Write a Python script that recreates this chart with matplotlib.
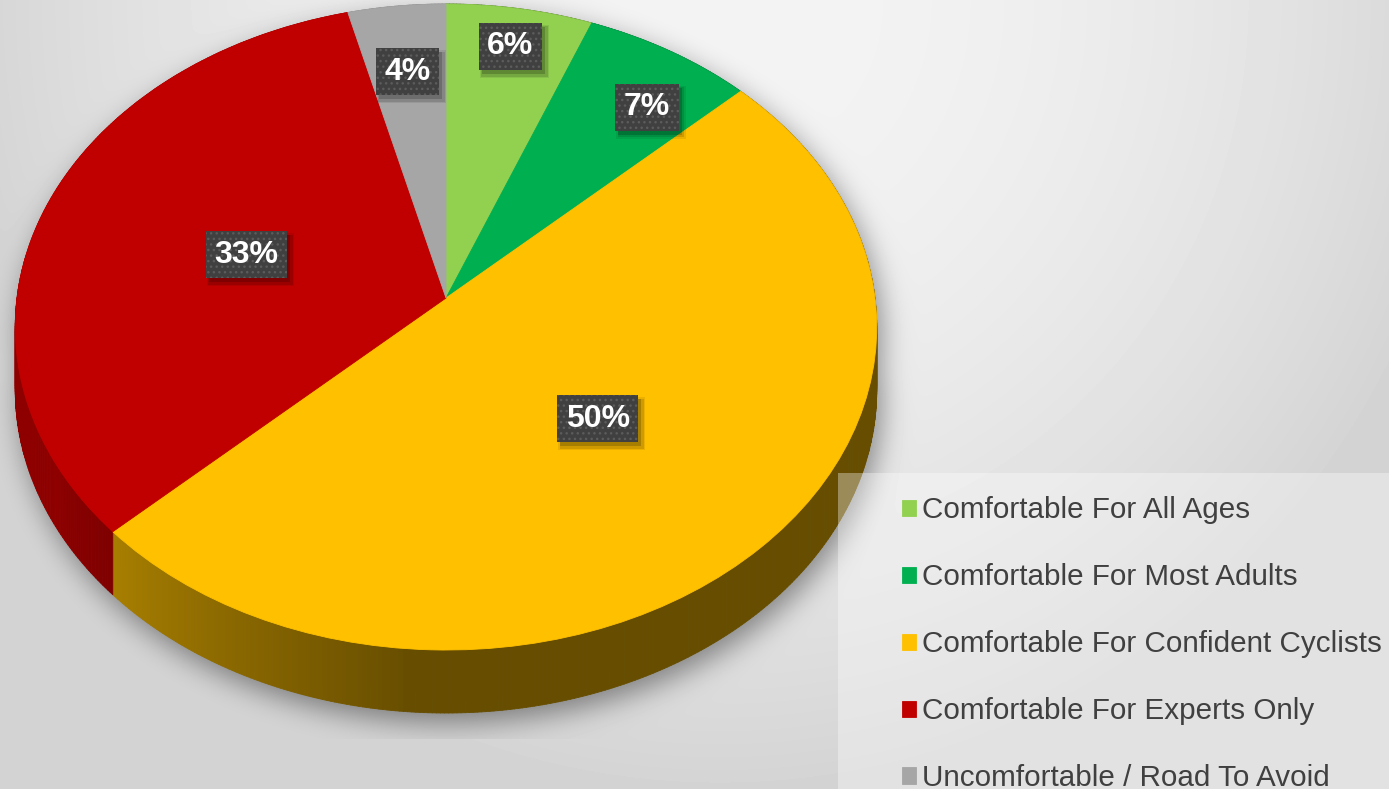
import numpy as np
import matplotlib
matplotlib.use("Agg")
import matplotlib.pyplot as plt
from matplotlib.transforms import Transform
from matplotlib.path import Path
from matplotlib.collections import PolyCollection
from matplotlib.patches import Rectangle
import matplotlib.colors as mcolors

# ---------------- data ----------------
categories = ["Comfortable For All Ages", "Comfortable For Most Adults",
              "Comfortable For Confident Cyclists", "Comfortable For Experts Only",
              "Uncomfortable / Road To Avoid"]
values = [6, 7, 50, 33, 4]
colors = ["#92D050", "#00B050", "#FFC000", "#C00000", "#A6A6A6"]
label_radius = [0.86, 0.80, 0.50, 0.49, 0.76]   # layout: where each data label sits
label_turn = [0, -4, 0, 0, 0]                     # layout: small angular nudge (deg)

W, H = 1389, 789
fig = plt.figure(figsize=(W / 100, H / 100), dpi=100)
ax = fig.add_axes([0, 0, 1, 1])


class Perspective(Transform):
    """Tilted-disc perspective: unit pie coordinates -> pixel coordinates."""
    input_dims = 2
    output_dims = 2
    is_separable = False
    has_inverse = False

    def __init__(self, cx, cy, a, b, k):
        super().__init__()
        self.cx, self.cy, self.a, self.b, self.k = cx, cy, a, b, k

    def transform_non_affine(self, values):
        values = np.asarray(values, dtype=float)
        u, v = values[:, 0], values[:, 1]
        w = 1 + self.k * v
        return np.column_stack([self.cx + self.a * u / w, self.cy - self.b * v / w])


persp = Perspective(446, 298, 429, 320.4, 0.0898)
DEPTH = 63

# ---------------- background + soft shadow ----------------
yy, xx = np.mgrid[0:H, 0:W] + 0.5
r2 = ((xx - 720) / 760) ** 2 + (yy / 789) ** 2
bg = 0.955 - 0.125 * np.clip(r2, 0, 1)

tt = np.linspace(0, 2 * np.pi, 400)
outline = persp.transform(np.column_stack([np.cos(tt), np.sin(tt)]))
pts = np.column_stack([xx.ravel(), yy.ravel()])
SHX, SHY = 5, 10
m1 = Path(outline + [SHX, SHY]).contains_points(pts)
m2 = Path(outline + [SHX, SHY + DEPTH]).contains_points(pts)
mask = (m1 | m2).reshape(H, W).astype(float)


def gblur(a, s):
    pad = int(3 * s)
    ap = np.pad(a, pad)
    fy = np.fft.fftfreq(ap.shape[0])[:, None]
    fx = np.fft.rfftfreq(ap.shape[1])[None, :]
    g = np.exp(-2 * (np.pi * s) ** 2 * (fx ** 2 + fy ** 2))
    out = np.fft.irfft2(np.fft.rfft2(ap) * g, s=ap.shape)
    return out[pad:-pad, pad:-pad]


shadow = gblur(mask, 14)
shadow[yy > 739] = 0
bg = bg * (1 - 0.42 * shadow)
ax.imshow(bg, cmap="gray", vmin=0, vmax=1, extent=(0, W, H, 0),
          aspect="auto", interpolation="bilinear", zorder=0)

# ---------------- pie top face ----------------
wedges, _ = ax.pie(values, colors=colors, startangle=90, counterclock=False,
                   radius=1, wedgeprops=dict(linewidth=0.6))
for wdg, c in zip(wedges, colors):
    wdg.set_transform(persp + ax.transData)
    wdg.set_edgecolor(c)
    wdg.set_zorder(3)


# ---------------- pie side wall ----------------
def shade(phi):
    if phi > 0:
        return 0.40 if np.cos(np.radians(phi)) > 0 else 0.74
    if phi <= -150:
        return 0.74
    if phi <= -95:
        return 0.41 + 0.33 * (-95 - phi) / 55.0
    return 0.40


polys, fcs = [], []
for wdg, c in zip(wedges, colors):
    n = max(4, int(abs(wdg.theta2 - wdg.theta1) * 2))
    t = np.linspace(wdg.theta1, wdg.theta2, n)
    rim = persp.transform(np.column_stack([np.cos(np.radians(t)), np.sin(np.radians(t))]))
    base = np.array(mcolors.to_rgb(c))
    for i in range(n - 1):
        p0, p1 = rim[i], rim[i + 1]
        polys.append([p0, p1, p1 + [0, DEPTH], p0 + [0, DEPTH]])
        phi = ((0.5 * (t[i] + t[i + 1]) + 180) % 360) - 180
        fcs.append(np.clip(base * shade(phi), 0, 1))
ax.add_collection(PolyCollection(polys, facecolors=fcs, edgecolors=fcs,
                                 linewidths=0.6, zorder=2))

# ---------------- data labels ----------------
label_texts = []
for wdg, val, r, turn in zip(wedges, values, label_radius, label_turn):
    mid = np.radians(0.5 * (wdg.theta1 + wdg.theta2) + turn)
    x, y = persp.transform([[r * np.cos(mid), r * np.sin(mid)]])[0]
    t = ax.text(x, y, f"{val}%", color="white", fontsize=23, fontweight="bold",
                family="Liberation Sans", ha="center", va="center",
                bbox=dict(boxstyle="square,pad=0.27", fc="#404040", ec="#5c5c5c",
                          lw=0, hatch="..."),
                zorder=5)
    label_texts.append(t)

ax.set_aspect("auto")
ax.set_xlim(0, W)
ax.set_ylim(H, 0)
ax.axis("off")

# drop shadows behind label boxes
fig.canvas.draw()
inv = ax.transData.inverted()
for t in label_texts:
    bb = t.get_bbox_patch().get_window_extent()
    (xa, ya), (xb, yb) = inv.transform([[bb.x0, bb.y0], [bb.x1, bb.y1]])
    x0, x1 = min(xa, xb), max(xa, xb)
    y0, y1 = min(ya, yb), max(ya, yb)
    for dx, dy, grow, al in [(4, 5, 3, 0.08), (4, 5, 1.5, 0.12), (3, 4, 0, 0.18)]:
        ax.add_patch(Rectangle((x0 + dx - grow, y0 + dy - grow), x1 - x0 + 2 * grow,
                               y1 - y0 + 2 * grow, fc="black", ec="none", alpha=al, zorder=4))

# ---------------- legend ----------------
ax.add_patch(Rectangle((838, 473), W - 838, H - 473, fc="white", ec="none", alpha=0.35, zorder=6))
leg = ax.legend(wedges, categories, loc="upper left",
                bbox_to_anchor=(902 / W, 1 - 496.5 / H), frameon=False,
                prop={"family": "Liberation Sans", "size": 21.3},
                labelcolor="#404040", handlelength=0.47, handleheight=0.47,
                handletextpad=0.2, labelspacing=1.315, borderaxespad=0, borderpad=0)
leg.set_zorder(7)

fig.savefig("out.png", dpi=100)
